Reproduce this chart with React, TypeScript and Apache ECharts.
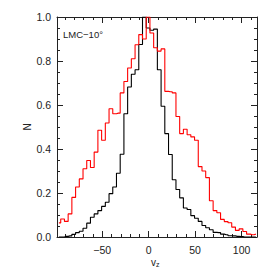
import React, { useEffect, useRef } from "react";
import * as echarts from "echarts";

// Histogram of v_z, 4 km/s bins starting at the left edge of the axis
const X_MIN = -98.6;
const X_MAX = 116.6;
const BIN_WIDTH = 4;

const redCounts = [
  0.064, 0.082, 0.071, 0.105, 0.18, 0.227, 0.264, 0.31, 0.348, 0.316,
  0.386, 0.485, 0.44, 0.518, 0.583, 0.56, 0.563, 0.655, 0.707, 0.768,
  0.81, 0.874, 0.92, 0.9, 1.0, 0.927, 0.86, 0.845, 0.855, 0.662,
  0.66, 0.655, 0.548, 0.47, 0.49, 0.465, 0.455, 0.44, 0.32, 0.3,
  0.27, 0.165, 0.12, 0.11, 0.08, 0.07, 0.065, 0.045, 0.03, 0.037,
  0.025, 0.013, 0.01, 0.013,
];

const blackCounts = [
  0.0, 0.0, 0.003, 0.005, 0.012, 0.02, 0.026, 0.04, 0.063, 0.09,
  0.105, 0.12, 0.139, 0.158, 0.197, 0.227, 0.29, 0.376, 0.56, 0.682,
  0.74, 0.76, 0.875, 1.0, 0.95, 0.94, 0.945, 0.76, 0.594, 0.47,
  0.375, 0.26, 0.216, 0.178, 0.132, 0.125, 0.097, 0.085, 0.071, 0.052,
  0.042, 0.033, 0.021, 0.02, 0.013, 0.01, 0.006, 0.005, 0.003, 0.002,
  0.0, 0.0, 0.0, 0.0,
];

const xMajorTicks = [-50, 0, 50, 100];
const xMinorTicks = [-90, -80, -70, -60, -40, -30, -20, -10, 10, 20, 30, 40, 60, 70, 80, 90, 110];

const LABEL = "LMC−10°";
const FONT = "Liberation Sans, Arial, sans-serif";
const AXIS_COLOR = "#222";

function toSeries(values: number[]) {
  return values.map((v, i) => [X_MIN + BIN_WIDTH / 2 + BIN_WIDTH * i, v]);
}

export default function App() {
  const ref = useRef<HTMLDivElement>(null);
  useEffect(() => {
    document.body.style.margin = "0";
    if (!ref.current) return;
    const chart = echarts.init(ref.current, null, { renderer: "svg" });
    const grid = { left: 57, right: 17, top: 17, bottom: 37 };
    const xBase = {
      type: "value" as const,
      min: X_MIN,
      max: X_MAX,
      splitLine: { show: false },
      axisLabel: { show: false },
    };
    const lineOn = { show: true, onZero: false, lineStyle: { color: AXIS_COLOR, width: 1 } };
    const lineOff = { show: false, onZero: false };
    const xAxes = [
      {
        ...xBase,
        position: "bottom",
        axisLine: lineOn,
        axisTick: { show: true, inside: true, length: 6, customValues: xMajorTicks, lineStyle: { color: AXIS_COLOR } },
        axisLabel: {
          show: true,
          customValues: xMajorTicks,
          formatter: (v: number) => (v < 0 ? "−" + Math.abs(v) : String(v)),
          color: "#222",
          fontFamily: FONT,
          fontSize: 10.5,
          margin: 7,
        },
      },
      {
        ...xBase,
        position: "bottom",
        axisLine: lineOff,
        axisTick: { show: true, inside: true, length: 3, customValues: xMinorTicks, lineStyle: { color: AXIS_COLOR } },
      },
      {
        ...xBase,
        position: "top",
        axisLine: lineOn,
        axisTick: { show: true, inside: true, length: 6, customValues: xMajorTicks, lineStyle: { color: AXIS_COLOR } },
      },
      {
        ...xBase,
        position: "top",
        axisLine: lineOff,
        axisTick: { show: true, inside: true, length: 3, customValues: xMinorTicks, lineStyle: { color: AXIS_COLOR } },
      },
    ];
    const yBase = {
      type: "value" as const,
      min: 0,
      max: 1,
      interval: 0.2,
      splitLine: { show: false },
      axisLine: lineOn,
      axisTick: { show: true, inside: true, length: 6, lineStyle: { color: AXIS_COLOR } },
      minorTick: { show: true, splitNumber: 4, length: 3, lineStyle: { color: AXIS_COLOR } },
    };
    chart.setOption({
      animation: false,
      grid,
      xAxis: xAxes,
      yAxis: [
        {
          ...yBase,
          position: "left",
          axisLabel: {
            show: true,
            formatter: (v: number) => v.toFixed(1),
            color: "#222",
            fontFamily: FONT,
            fontSize: 10.5,
            margin: 6,
          },
        },
        { ...yBase, position: "right", axisLabel: { show: false } },
      ],
      graphic: [
        {
          type: "text",
          x: 63,
          y: 34,
          style: { text: LABEL, fill: "#222", font: `9.5px ${FONT}`, textVerticalAlign: "middle" },
        },
        {
          type: "text",
          x: 27,
          y: 127,
          rotation: Math.PI / 2,
          style: { text: "N", fill: "#222", font: `10px ${FONT}`, textAlign: "center", textVerticalAlign: "middle" },
        },
        {
          type: "text",
          x: 151,
          y: 262,
          style: {
            text: "{v|v}{z|z}",
            textVerticalAlign: "middle",
            rich: {
              v: { fill: "#222", font: `10px ${FONT}` },
              z: { fill: "#222", font: `7px ${FONT}`, padding: [5, 0, 0, 0] },
            },
          },
        },
      ],
      series: [
        {
          type: "line",
          step: "middle",
          data: toSeries(blackCounts),
          showSymbol: false,
          lineStyle: { color: "#000", width: 1.1 },
          xAxisIndex: 0,
          yAxisIndex: 0,
        },
        {
          type: "line",
          step: "middle",
          data: toSeries(redCounts),
          showSymbol: false,
          lineStyle: { color: "#ff0000", width: 1.1 },
          xAxisIndex: 0,
          yAxisIndex: 0,
        },
      ],
    });
    return () => chart.dispose();
  }, []);
  return <div ref={ref} style={{ width: 274, height: 274 }} />;
}
